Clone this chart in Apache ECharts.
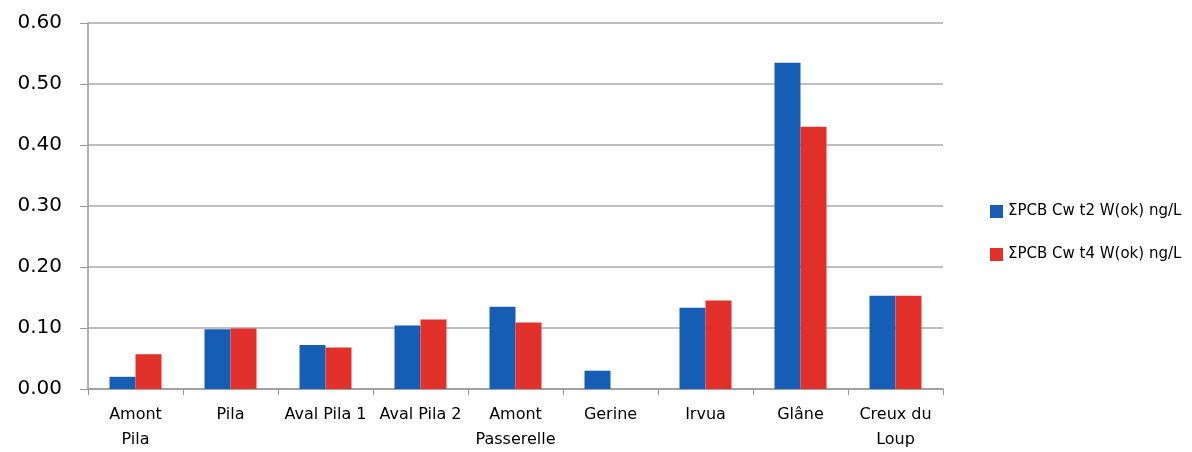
<!DOCTYPE html>
<html>
<head>
<meta charset="utf-8">
<script src="https://cdn.jsdelivr.net/npm/echarts@6/dist/echarts.min.js"></script>
<style>html,body{margin:0;padding:0;background:#fff}#c{width:1192px;height:452px}</style>
</head>
<body>
<div id="c"></div>
<script>
const categories = ['Amont\nPila', 'Pila', 'Aval Pila 1', 'Aval Pila 2', 'Amont\nPasserelle', 'Gerine', 'Irvua', 'Glâne', 'Creux du\nLoup'];
const seriesNames = ['ΣPCB Cw t2 W(ok) ng/L', 'ΣPCB Cw t4 W(ok) ng/L'];
const valuesT2 = [0.020, 0.098, 0.072, 0.104, 0.135, 0.030, 0.133, 0.535, 0.153];
const valuesT4 = [0.057, 0.099, 0.068, 0.114, 0.109, null, 0.145, 0.430, 0.153];
const yTicks = [0, 0.1, 0.2, 0.3, 0.4, 0.5, 0.6];

const chart = echarts.init(document.getElementById('c'));
chart.setOption({
  animation: false,
  backgroundColor: '#fff',
  textStyle: { fontFamily: 'DejaVu Sans' },
  grid: { left: 88, right: 249, top: 23, bottom: 62, containLabel: false },
  legend: {
    orient: 'vertical',
    left: 985,
    top: 199,
    itemWidth: 13,
    itemHeight: 13,
    itemGap: 28,
    itemStyle: { borderWidth: 0 },
    icon: 'rect',
    textStyle: { fontSize: 15, color: '#000', fontFamily: 'DejaVu Sans' },
    data: seriesNames
  },
  xAxis: {
    type: 'category',
    data: categories,
    axisLine: { lineStyle: { color: '#999', width: 1.5 } },
    axisTick: { show: true, length: 6, lineStyle: { color: '#999' } },
    axisLabel: { color: '#000', fontSize: 16, lineHeight: 25, margin: 13, interval: 0 }
  },
  yAxis: {
    type: 'value',
    min: yTicks[0],
    max: yTicks[yTicks.length - 1],
    interval: 0.1,
    axisLine: { show: true, lineStyle: { color: '#999', width: 1.5 } },
    axisTick: { show: true, length: 8, lineStyle: { color: '#999' } },
    splitLine: { lineStyle: { color: '#aaa', width: 1.5 } },
    axisLabel: { color: '#000', fontSize: 20, margin: 26, formatter: v => v.toFixed(2) }
  },
  series: [
    { name: seriesNames[0], type: 'bar', data: valuesT2, barWidth: 26, barGap: '0%', itemStyle: { color: '#165DB5' } },
    { name: seriesNames[1], type: 'bar', data: valuesT4, barWidth: 26, barGap: '0%', itemStyle: { color: '#E2302A' } }
  ]
});
</script>
</body>
</html>
